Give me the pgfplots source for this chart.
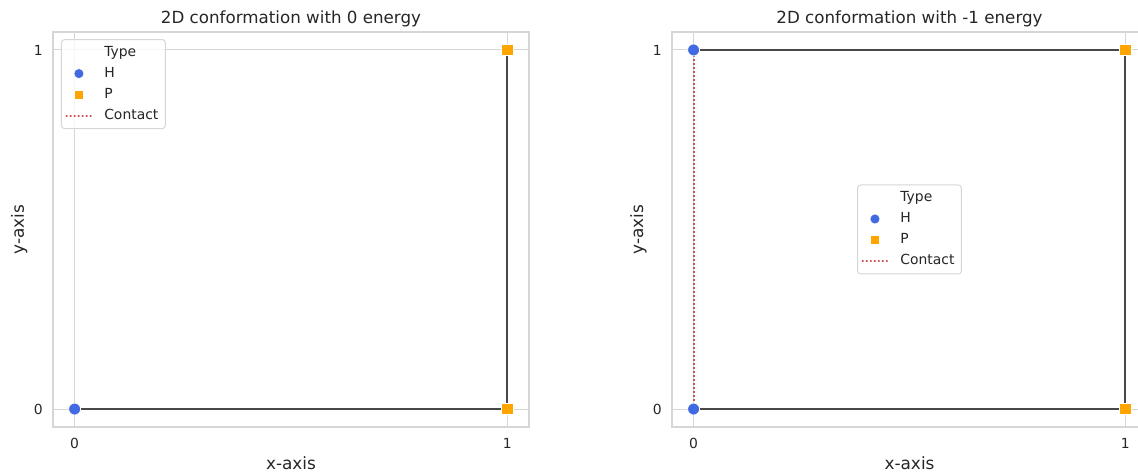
\documentclass[border=0pt]{standalone}
\usepackage{fontspec}
\setmainfont{DejaVu Sans}
\usepackage{pgfplots}
\pgfplotsset{compat=1.18}
\definecolor{hcol}{RGB}{65,105,225}
\definecolor{pcol}{RGB}{255,165,0}
\definecolor{ccol}{RGB}{205,80,80}
\definecolor{lcol}{RGB}{72,72,72}
\definecolor{gcol}{RGB}{214,214,214}
\definecolor{tcol}{RGB}{38,38,38}
\pgfplotsset{
  hp/.style={
    scale only axis, width=476pt, height=395pt,
    xmin=-0.05, xmax=1.05, ymin=-0.05, ymax=1.05,
    xtick={0,1}, ytick={0,1},
    grid=major, major grid style={draw=gcol, line width=1pt},
    axis line style={draw=gcol, line width=1.2pt},
    tick style={draw=none},
    /pgf/number format/assume math mode=true,
    tick label style={font=\fontsize{13.9}{16}\selectfont, text=tcol},
    xticklabel style={anchor=north, inner sep=0pt, yshift=-11pt},
    yticklabel style={anchor=east, inner sep=0pt, xshift=-10pt},
    every axis title/.style={at={(axis description cs:0.5,1)}, anchor=base, inner sep=0pt, yshift=8pt, font=\fontsize{16.7}{20}\selectfont, text=tcol},
    every axis x label/.style={at={(axis description cs:0.5,0)}, anchor=base, inner sep=0pt, yshift=-43pt, font=\fontsize{16.9}{20}\selectfont, text=tcol},
    every axis y label/.style={at={(axis description cs:0,0.5)}, anchor=base, rotate=90, inner sep=0pt, yshift=29pt, font=\fontsize{16.9}{20}\selectfont, text=tcol},
    xlabel={x-axis}, ylabel={y-axis},
    legend cell align=left,
    legend style={draw=gcol, line width=1pt, rounded corners=3pt, fill=white, fill opacity=0.8, text opacity=1,
      font=\fontsize{13.9}{16}\selectfont, text=tcol, inner xsep=4pt, inner ysep=2.5pt, row sep=0pt, column sep=9pt,
      nodes={text height=11pt, text depth=3pt, inner ysep=3.5pt, inner xsep=3pt}},
  },
  chain/.style={draw=lcol, line width=2pt, forget plot},
  contact/.style={draw=ccol, line width=2pt, dash pattern=on 2pt off 2pt, forget plot},
  hpt/.style={only marks, mark=*, mark size=6pt, mark options={fill=hcol, draw=white, line width=0.8pt}, forget plot},
  ppt/.style={only marks, mark=square*, mark size=5.8pt, mark options={fill=pcol, draw=white, line width=0.8pt}, forget plot},
  limgmark/.style={legend image code/.code={\draw[##1] plot coordinates {(12.5pt,0pt)};}},
  limgline/.style={legend image code/.code={\draw[##1] (0pt,0pt) -- (25pt,0pt);}},
  lgH/.style={limgmark, draw=none, mark=*, mark size=5pt, mark options={fill=hcol, fill opacity=1, draw opacity=1, draw=white, line width=0.6pt}},
  lgP/.style={limgmark, draw=none, mark=square*, mark size=4.8pt, mark options={fill=pcol, fill opacity=1, draw opacity=1, draw=white, line width=0.6pt}},
  lgC/.style={limgline, draw=ccol, draw opacity=1, line width=1.8pt, line cap=round, dash pattern=on 0.6pt off 3.4pt},
}
\begin{document}
\begin{tikzpicture}
\useasboundingbox (0,0) rectangle (1138pt,476pt);
\begin{axis}[hp, at={(53pt,49pt)}, anchor=south west,
  title={2D conformation with 0 energy},
  legend style={at={(axis description cs:0.0168,0.982)}, anchor=north west}]
\addplot[chain] coordinates {(0,0) (1,0) (1,1)};
\addplot[hpt] coordinates {(0,0)};
\addplot[ppt] coordinates {(1,0) (1,1)};
\addlegendimage{empty legend}\addlegendentry{Type}
\addlegendimage{lgH}\addlegendentry{H}
\addlegendimage{lgP}\addlegendentry{P}
\addlegendimage{lgC}\addlegendentry{Contact}
\end{axis}
\begin{axis}[hp, at={(672pt,49pt)}, anchor=south west, width=475pt,
  title={2D conformation with -1 energy},
  legend style={at={(axis description cs:0.5,0.5)}, anchor=center}]
\addplot[chain] coordinates {(0,0) (1,0) (1,1) (0,1)};
\addplot[contact] coordinates {(0,0) (0,1)};
\addplot[hpt] coordinates {(0,0) (0,1)};
\addplot[ppt] coordinates {(1,0) (1,1)};
\addlegendimage{empty legend}\addlegendentry{Type}
\addlegendimage{lgH}\addlegendentry{H}
\addlegendimage{lgP}\addlegendentry{P}
\addlegendimage{lgC}\addlegendentry{Contact}
\end{axis}
\end{tikzpicture}
\end{document}
